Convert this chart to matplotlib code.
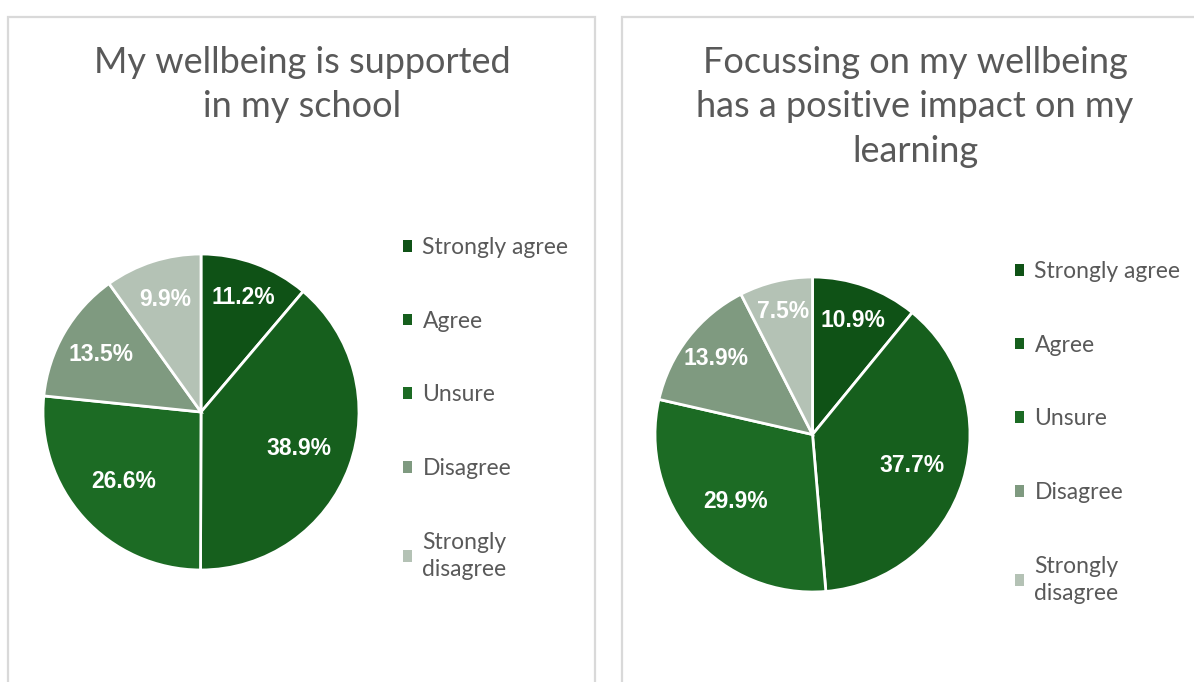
import numpy as np
import matplotlib.pyplot as plt
from matplotlib.patches import Rectangle, Patch

# === DATA ===
categories = ["Strongly agree", "Agree", "Unsure", "Disagree", "Strongly\ndisagree"]
supported_pct = [11.2, 38.9, 26.6, 13.5, 9.9]
impact_pct = [10.9, 37.7, 29.9, 13.9, 7.5]
title_left = "My wellbeing is supported\nin my school"
title_right = "Focussing on my wellbeing\nhas a positive impact on my\nlearning"

# === STYLE ===
colors = ["#0f5216", "#165f1d", "#1c6b24", "#7f9a80", "#b4c2b5"]
text_grey = "#595959"
W, H = 1194, 682
plt.rcParams["font.family"] = ["Lato", "DejaVu Sans"]

fig = plt.figure(figsize=(W / 100, H / 100), dpi=100)


def px_box(x0, y0, x1, y1):
    # pixel box (top-left origin) -> figure fraction rect
    return [x0 / W, 1 - y1 / H, (x1 - x0) / W, (y1 - y0) / H]


# panel borders
for x0, x1 in [(8, 595), (622, 1210)]:
    fig.patches.append(Rectangle((x0 / W, -0.05), (x1 - x0) / W, 1.05 - 17 / H,
                                 transform=fig.transFigure, fill=False,
                                 edgecolor="#d9d9d9", linewidth=1.6))


def draw_pie(values, box, label_r, title, title_xy, legend_xy):
    ax = fig.add_axes(px_box(*box))
    wedges, _, autotexts = ax.pie(values, colors=colors, startangle=90, counterclock=False,
                                  autopct="%.1f%%", pctdistance=0.72,
                                  wedgeprops=dict(edgecolor="white", linewidth=2),
                                  textprops=dict(color="white", fontsize=16.5, fontweight="bold",
                                                 family=["Liberation Sans", "DejaVu Sans"]))
    # move labels to individual radii like the original
    for w, t, r in zip(wedges, autotexts, label_r):
        ang = np.deg2rad((w.theta1 + w.theta2) / 2)
        t.set_position((r * np.cos(ang), r * np.sin(ang)))
    ax.set_xlim(-1, 1)
    ax.set_ylim(-1, 1)

    fig.text(title_xy[0] / W, 1 - title_xy[1] / H, title, ha="center", va="top",
             fontsize=26, color=text_grey, linespacing=1.42)

    handles = [Patch(facecolor=c, edgecolor="none") for c in colors]
    leg = fig.legend(handles, categories, loc="upper left",
                     bbox_to_anchor=(legend_xy[0] / W, 1 - legend_xy[1] / H),
                     frameon=False, fontsize=16.5, labelcolor=text_grey,
                     handlelength=0.4, handleheight=0.4, handletextpad=0.45,
                     labelspacing=2.3, borderpad=0, borderaxespad=0)
    for t in leg.get_texts():
        t.set_linespacing(1.35)
    return ax


draw_pie(supported_pct, (43, 254, 359, 570), [0.77, 0.66, 0.66, 0.73, 0.75],
         title_left, (302, 46), (403, 237))
draw_pie(impact_pct, (655, 277, 970, 592), [0.77, 0.66, 0.65, 0.78, 0.8],
         title_right, (915, 46), (1015, 261))

fig.savefig("out.png", dpi=100, facecolor="white")
